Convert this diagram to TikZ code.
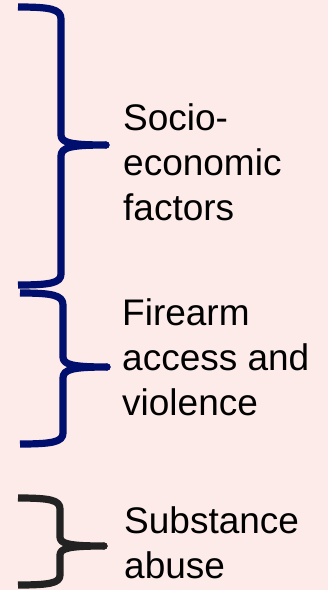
\documentclass[tikz,border=0pt]{standalone}
\usepackage{fontspec}
\setmainfont{Liberation Sans}
\usetikzlibrary{positioning}
\definecolor{bgpink}{RGB}{253,235,233}
\definecolor{bracenavy}{RGB}{0,14,110}
\definecolor{bracegray}{RGB}{34,34,34}

\begin{document}
\begin{tikzpicture}[x=1pt,y=-1pt,
    brace/.style={line width=7.2pt,line join=round},
    factor/.style={anchor=north west,align=left,inner sep=0pt,
        font=\fontsize{37}{45}\selectfont}]
    \fill[bgpink] (0,0) rectangle (328,590);
    \useasboundingbox (0,0) rectangle (328,590);

    % socio-economic
    \coordinate (tipA) at (106,145);
    \draw[brace,bracenavy] (18,7) .. controls (50,7) and (61,9) .. (61,19)
        -- (61,135) .. controls (61,143) and (72,145) .. (tipA)
        .. controls (72,145) and (61,147) .. (61,156)
        -- (61,274) .. controls (61,283) and (50,285) .. (18,285);
    \fill[bracenavy] (tipA) circle (3.6pt);
    \node[factor] (socio) at (123,103) {Socio-\\economic\\factors};

    % firearms
    \coordinate (tipB) at (107,367);
    \draw[brace,bracenavy] (20,293) .. controls (52,293) and (63,295) .. (63,305)
        -- (63,357) .. controls (63,365) and (74,367) .. (tipB)
        .. controls (74,367) and (63,369) .. (63,378)
        -- (63,433) .. controls (63,442) and (52,444) .. (20,444);
    \fill[bracenavy] (tipB) circle (3.6pt);
    \node[factor] (firearm) at (122,298) {Firearm\\access and\\violence};

    % substance
    \coordinate (tipC) at (104,546);
    \draw[brace,bracegray] (18,498) .. controls (50,498) and (60,500) .. (60,509)
        -- (60,537) .. controls (60,544) and (70,546) .. (tipC)
        .. controls (70,546) and (60,548) .. (60,555)
        -- (60,575) .. controls (60,583) and (50,585) .. (18,585);
    \fill[bracegray] (tipC) circle (3.6pt);
    \node[factor] (substance) at (124,506) {Substance\\abuse};
\end{tikzpicture}
\end{document}
